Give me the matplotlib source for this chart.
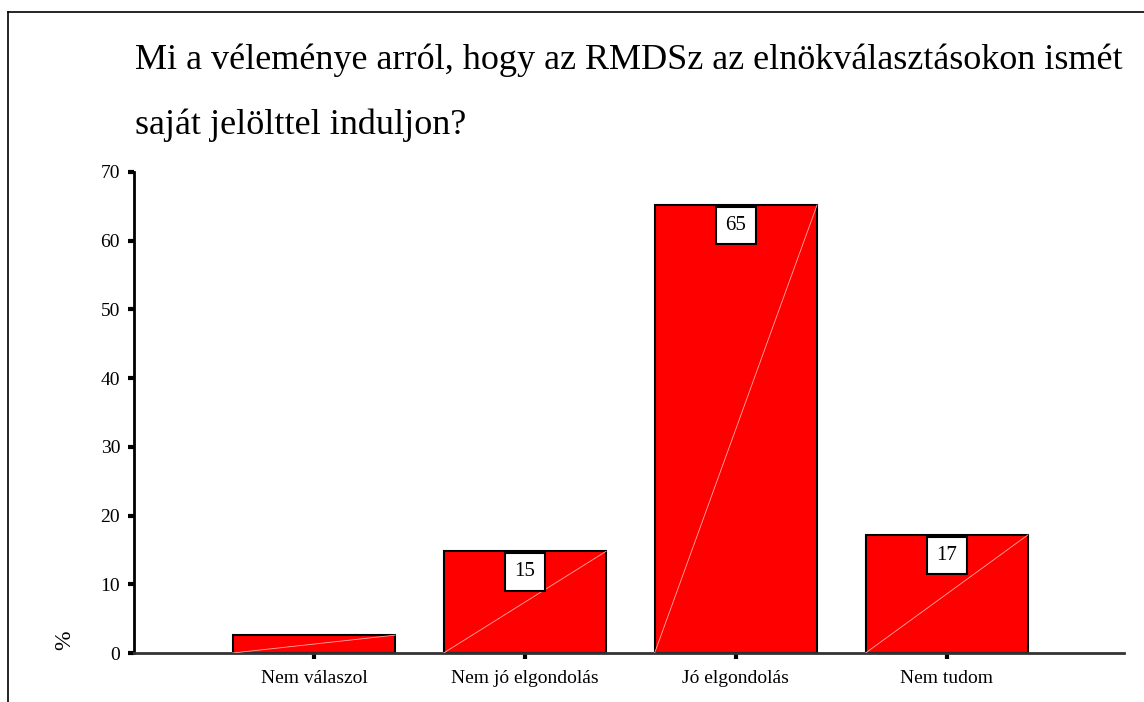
import matplotlib.pyplot as plt
from matplotlib.lines import Line2D

# Adatok
kategoriak = ['Nem válaszol', 'Nem jó elgondolás', 'Jó elgondolás', 'Nem tudom']
szazalek = [2.6, 14.8, 65.2, 17.2]
cimkek = ['', '15', '65', '17']
yticks = [0, 10, 20, 30, 40, 50, 60, 70]

plt.rcParams['font.family'] = ['Liberation Serif', 'DejaVu Serif']

fig = plt.figure(figsize=(11.44, 7.02), dpi=100)
ax = fig.add_axes([134 / 1144, 1 - 653 / 702, (1124 - 134) / 1144, (653 - 172) / 702])

x = list(range(len(kategoriak)))
szel = 0.77
ax.bar(x, szazalek, width=szel, color='#ff0000', edgecolor='black', linewidth=1.5, zorder=2)

# halvany atlos vonal a hasabokon
for xi, v in zip(x, szazalek):
    ax.plot([xi - szel / 2, xi + szel / 2], [0, v], color='#ffaaaa', lw=0.6, zorder=3)

# ertekcimkek
for xi, v, c in zip(x, szazalek, cimkek):
    if c:
        ax.text(xi, v - 3.0, c, ha='center', va='center', fontsize=15, zorder=5,
                bbox=dict(boxstyle='square,pad=0.45', fc='white', ec='black', lw=1.5))

ax.set_xlim(-0.853, 3.84)
ax.set_ylim(0, 70)
ax.set_yticks(yticks)
ax.set_xticks(x)
ax.set_xticklabels(kategoriak, fontsize=14)
ax.tick_params(axis='y', labelsize=14, length=4, width=3, pad=6)
ax.tick_params(axis='x', length=4, width=3, pad=8)
for s in ['top', 'right']:
    ax.spines[s].set_visible(False)
ax.spines['left'].set_linewidth(2)
ax.spines['bottom'].set_linewidth(2)
ax.spines['bottom'].set_color('#333333')

fig.text(65 / 1144, 1 - 640 / 702, '%', rotation=90, fontsize=17, ha='center', va='center')

fig.text(135 / 1144, 1 - 60 / 702, 'Mi a véleménye arról, hogy az RMDSz az elnökválasztásokon ismét',
         fontsize=26, ha='left', va='center')
fig.text(135 / 1144, 1 - 125 / 702, 'saját jelölttel induljon?', fontsize=26, ha='left', va='center')

# keret
fig.add_artist(Line2D([8 / 1144, 8 / 1144], [0, 1 - 12 / 702], color='black', lw=1.2,
                      transform=fig.transFigure))
fig.add_artist(Line2D([8 / 1144, 1], [1 - 12 / 702, 1 - 12 / 702], color='black', lw=1.2,
                      transform=fig.transFigure))

fig.savefig('out.png', dpi=100)
